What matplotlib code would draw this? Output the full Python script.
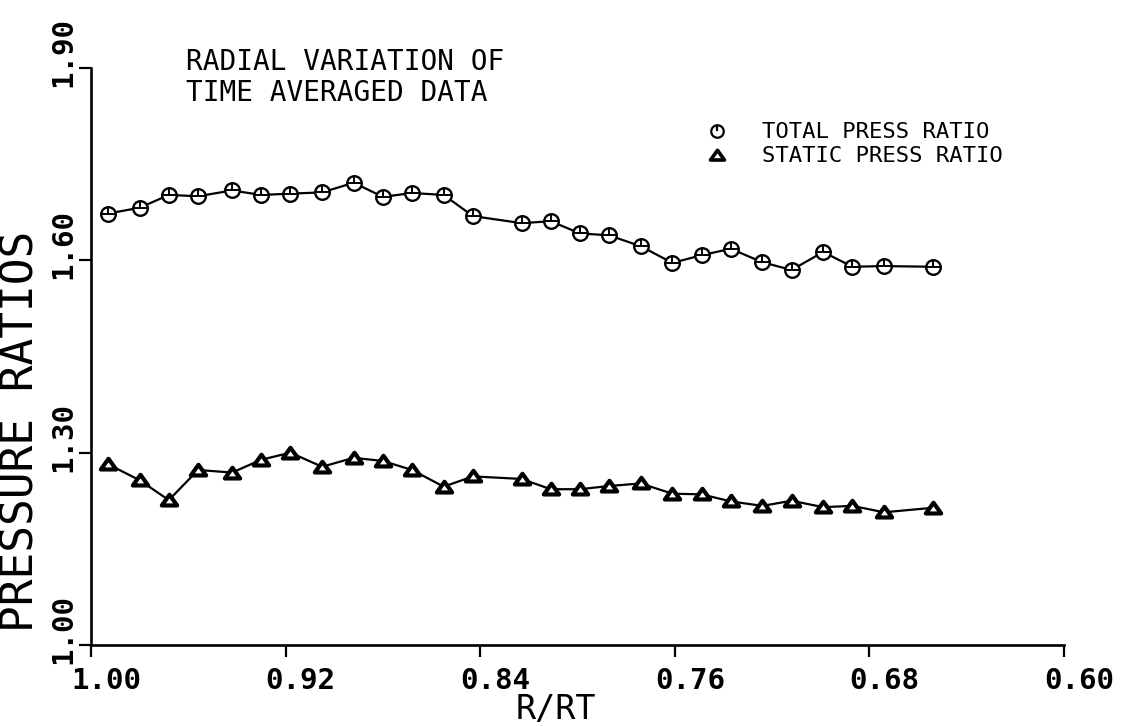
import matplotlib
matplotlib.use('Agg')
import matplotlib.pyplot as plt
from matplotlib.transforms import ScaledTranslation
from matplotlib.path import Path
from matplotlib.lines import Line2D
from matplotlib.legend_handler import HandlerTuple

# ---- data ----
r_rt = [0.993, 0.980, 0.968, 0.956, 0.942, 0.930, 0.918, 0.905, 0.892, 0.880,
        0.868, 0.855, 0.843, 0.823, 0.811, 0.799, 0.787, 0.774, 0.761, 0.749,
        0.737, 0.724, 0.712, 0.699, 0.687, 0.674, 0.654]
total_press = [1.673, 1.682, 1.702, 1.700, 1.709, 1.702, 1.704, 1.706, 1.721, 1.699,
               1.705, 1.702, 1.669, 1.658, 1.661, 1.642, 1.639, 1.622, 1.596, 1.608,
               1.618, 1.597, 1.585, 1.613, 1.590, 1.591, 1.590]
static_press = [1.282, 1.257, 1.226, 1.273, 1.269, 1.289, 1.300, 1.278, 1.292, 1.287,
                1.273, 1.247, 1.263, 1.259, 1.243, 1.243, 1.248, 1.252, 1.236, 1.235,
                1.224, 1.217, 1.225, 1.215, 1.217, 1.207, 1.214]
x_ticks = [1.00, 0.92, 0.84, 0.76, 0.68, 0.60]
x_tick_labels = ["1.00", "0.92", "0.84", "0.76", "0.68", "0.60"]
y_ticks = [1.00, 1.30, 1.60, 1.90]
y_tick_labels = ["1.00", "1.30", "1.60", "1.90"]
series_labels = ["TOTAL PRESS RATIO", "STATIC PRESS RATIO"]

plt.rcParams['font.family'] = ['DejaVu Sans Mono', 'DejaVu Sans']

W, H = 1124, 726
fig = plt.figure(figsize=(W / 100, H / 100), dpi=100)
ax = fig.add_axes([91 / W, 1 - 645 / H, (1064 - 91) / W, (645 - 68) / H])
ax.set_xlim(1.0, 0.6)
ax.set_ylim(1.0, 1.9)

# markers
tri = Path([(-1, -0.65), (1, -0.65), (0, 0.75), (-1, -0.65)],
           [Path.MOVETO, Path.LINETO, Path.LINETO, Path.CLOSEPOLY])
inner_total = Path([(0, 0), (0, 1), (-1, 0), (1, 0)],
                   [Path.MOVETO, Path.LINETO, Path.MOVETO, Path.LINETO])
legend_inner = Path([(0, 0), (0, 1), (0, -1)],
                    [Path.MOVETO, Path.LINETO, Path.MOVETO])

ax.plot(r_rt, total_press, color='black', lw=1.6, marker='o', ms=10.5,
        mfc='white', mec='black', mew=1.7, zorder=3)
ax.plot(r_rt, total_press, ls='none', marker=inner_total, ms=10.5,
        mfc='none', mec='black', mew=1.4, zorder=4)
ax.plot(r_rt, static_press, color='black', lw=1.6, marker=tri, ms=11,
        mfc='white', mec='black', mew=3.0, zorder=3)

# axes styling
for s in ['top', 'right']:
    ax.spines[s].set_visible(False)
for s in ['left', 'bottom']:
    ax.spines[s].set_linewidth(1.9)
ax.set_xticks(x_ticks)
ax.set_xticklabels(x_tick_labels, fontweight='bold')
ax.set_yticks(y_ticks)
ax.set_yticklabels(y_tick_labels, fontweight='bold')
ax.tick_params(direction='out', length=8.6, width=1.6, labelsize=21)
ax.tick_params(axis='x', pad=7)
ax.tick_params(axis='y', pad=1, labelrotation=90)

for lab in ax.get_xticklabels():
    lab.set_transform(lab.get_transform() +
                      ScaledTranslation(15 / 100, 0, fig.dpi_scale_trans))
for lab in ax.get_yticklabels():
    lab.set_va('center')
    lab.set_ha('right')
    lab.set_transform(lab.get_transform() +
                      ScaledTranslation(0, 16 / 100, fig.dpi_scale_trans))

# axis titles
fig.text(21 / W, 1 - 431 / H, "PRESSURE RATIOS", rotation=90, fontsize=32,
         ha='center', va='center')
fig.text(556 / W, 7 / H, "R/RT", fontsize=24, ha='center', va='baseline')

# chart title
fig.text(186 / W, 1 - 70 / H, "RADIAL VARIATION OF", fontsize=20,
         ha='left', va='baseline')
fig.text(186 / W, 1 - 101 / H, "TIME AVERAGED DATA", fontsize=20,
         ha='left', va='baseline')

# legend
h_total = (Line2D([], [], ls='none', marker='o', ms=9, mfc='white', mec='black', mew=1.6),
           Line2D([], [], ls='none', marker=legend_inner, ms=9, mfc='none',
                  mec='black', mew=1.6))
h_static = Line2D([], [], ls='none', marker=tri, ms=10, mfc='white', mec='black', mew=2.6)
fs_leg = 16
em = fs_leg * 100 / 72
ax.legend([h_total, h_static], series_labels,
          handler_map={tuple: HandlerTuple(ndivide=1, pad=0)},
          loc='upper left', bbox_to_anchor=((717 - em / 2) / W, 1 - 122.5 / H),
          bbox_transform=fig.transFigure, frameon=False, fontsize=fs_leg,
          handlelength=1.0, handletextpad=(762 - 717 - em / 2) / em,
          borderpad=0, borderaxespad=0, labelspacing=0.17)

fig.savefig('out.png', dpi=100)
